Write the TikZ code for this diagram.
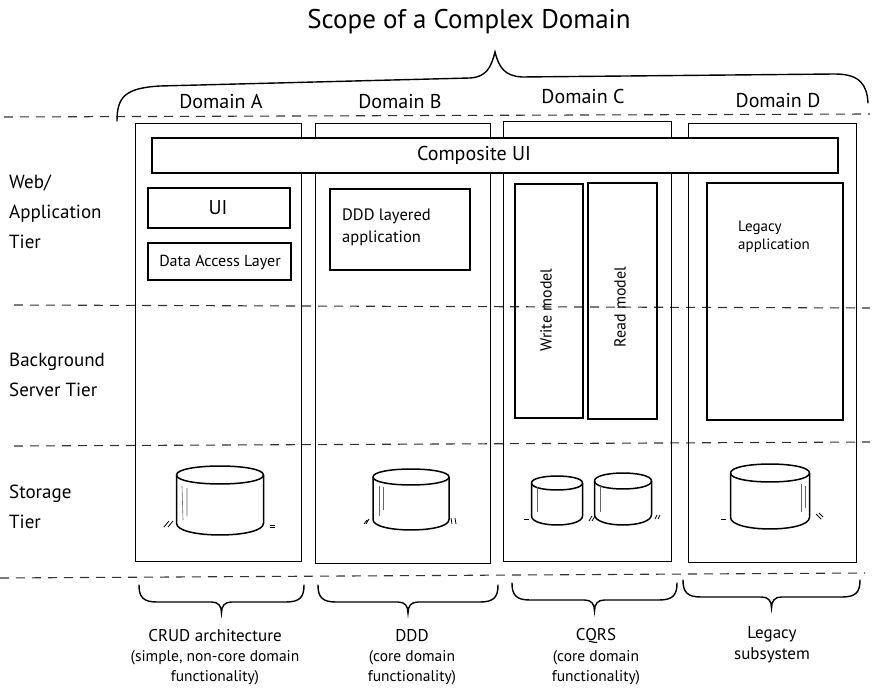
\documentclass[tikz,border=0pt]{standalone}
\usepackage{fontspec}
\setmainfont{PT Sans}
\usetikzlibrary{fit}
\newcommand\botbrace[3]{%
  \draw[brc] ({#1},{#3}) .. controls ({#1},{#3+12}) and ({#1+4},{#3+17}) .. ({#1+18},{#3+17})
    -- ({(#1+#2)/2-10},{#3+17}) .. controls ({(#1+#2)/2-3},{#3+17}) and ({(#1+#2)/2},{#3+21}) .. ({(#1+#2)/2},{#3+28})
    .. controls ({(#1+#2)/2},{#3+21}) and ({(#1+#2)/2+3},{#3+17}) .. ({(#1+#2)/2+10},{#3+17})
    -- ({#2-18},{#3+17}) .. controls ({#2-4},{#3+17}) and ({#2},{#3+12}) .. ({#2},{#3});}
% \dbcyl{name}{cx}{top}{width}{bottom}{ry}
\newcommand\dbcyl[6]{%
  \pgfmathsetmacro\cL{#2-#4/2}\pgfmathsetmacro\cR{#2+#4/2}%
  \pgfmathsetmacro\cT{#3+#6}\pgfmathsetmacro\cB{#5-1.3*#6}%
  \pgfmathsetmacro\cU{#3+#6-1.33*#6}\pgfmathsetmacro\cD{#3+#6+1.33*#6}%
  \pgfmathsetmacro\cE{#5-1.3*#6+1.73*#6}%
  \coordinate (#1) at (#2,{(#3+#5)/2});
  \draw[dbl] (\cL,\cT) .. controls (\cL,\cU) and (\cR,\cU) .. (\cR,\cT)
     .. controls (\cR,\cD) and (\cL,\cD) .. cycle;
  \draw[dbl] (\cL,\cT) -- (\cL,\cB) .. controls (\cL,\cE) and (\cR,\cE) .. (\cR,\cB) -- (\cR,\cT);}
\begin{document}
\begin{tikzpicture}[x=1pt,y=-1pt,
  lbl/.style={font=\fontsize{20}{24}\selectfont, inner sep=0pt},
  tier/.style={font=\fontsize{19}{30}\selectfont, align=left, anchor=north west, inner sep=0pt},
  small/.style={font=\fontsize{16}{21}\selectfont, align=left, inner sep=0pt},
  colbox/.style={draw, line width=0.9pt, inner sep=0pt},
  ibox/.style={draw, line width=1.3pt, inner sep=0pt},
  cui/.style={draw, line width=2.4pt, inner sep=0pt},
  sep/.style={draw=black!80, line width=1.1pt, dash pattern=on 9pt off 7pt},
  dbl/.style={line width=1.5pt, line join=round},
  brc/.style={line width=1.4pt, line cap=round},
  tick/.style={line width=0.8pt},
  shine/.style={line width=0.6pt, draw=black!60},
  head/.style={font=\fontsize{17}{20}\selectfont, inner sep=0pt},
  sub/.style={font=\fontsize{15.5}{20}\selectfont, align=center, inner sep=0pt}
]
\useasboundingbox (0,0) rectangle (875,700);

% title and top brace
\node[lbl, font=\fontsize{27}{30}\selectfont] (title) at (469,22) {Scope of a Complex Domain};
\draw[brc] (117,121) .. controls (117,97) and (125,88) .. (160,86) -- (470,78)
  .. controls (486,77) and (491,68) .. (495,52)
  .. controls (499,68) and (505,76) .. (522,77) -- (835,74)
  .. controls (860,74) and (867,85) .. (868,103);

% domain labels
\node[lbl] (dA) at (221,102) {Domain A};
\node[lbl] (dB) at (400,102) {Domain B};
\node[lbl] (dC) at (583,97) {Domain C};
\node[lbl] (dD) at (778,101) {Domain D};

% tier separators
\draw[sep] (4,117) -- (870,114);
\draw[sep] (14,305) -- (870,308);
\draw[sep] (14,446) -- (870,442);
\draw[sep] (0,578) -- (865,573);

% tier labels
\node[tier] (tWeb) at (9,175) {Web/\\Application\\Tier};
\node[tier] (tBg) at (9,353) {Background\\Server Tier};
\node[tier] (tSt) at (9,485) {Storage\\Tier};

% domain columns
\node[colbox, fit={(135,123) (301,561)}] (colA) {};
\node[colbox, fit={(315,123) (490,563)}] (colB) {};
\node[colbox, fit={(503,121) (671,561)}] (colC) {};
\node[colbox, fit={(688,123) (856,562)}] (colD) {};

% composite UI
\node[cui, fill=white, fit={(152,138) (838,173)}] (cuiBox) {};
\node[lbl] (cuiTxt) at (474,155) {Composite UI};

% domain A
\node[ibox, fit={(148,188) (290,228)}] (uiBox) {};
\node[lbl] (uiTxt) at (218,208) {UI};
\node[ibox, fit={(148,243) (291,280)}] (dalBox) {};
\node[small] (dalTxt) at (220,262) {Data Access Layer};

% domain B
\node[ibox, fit={(330,189) (470,270)}] (dddBox) {};
\node[small, font=\fontsize{16.5}{22}\selectfont, anchor=north west] (dddTxt) at (342,209) {DDD layered\\application};

% domain C
\node[ibox, fit={(515,184) (583,418)}] (wBox) {};
\node[small, rotate=90] (wTxt) at (546,310) {Write model};
\node[ibox, fit={(588,183) (657,419)}] (rBox) {};
\node[small, rotate=90] (rTxt) at (620,307) {Read model};

% domain D
\node[ibox, fit={(707,183) (843,420)}] (lBox) {};
\node[small, font=\fontsize{15}{18}\selectfont, anchor=north west] (lTxt) at (738,221) {Legacy\\application};

% databases
\dbcyl{dbA}{220}{466}{87}{535}{9}
\dbcyl{dbB}{411}{469}{76}{530}{8}
\dbcyl{dbC1}{557}{476}{51}{525}{7}
\dbcyl{dbC2}{623}{473}{57}{525}{8}
\dbcyl{dbD}{770}{464}{79}{529}{9}

% sketch ticks next to databases
\draw[tick] (164,527) -- (169,521) (168,527) -- (173,521);
\draw[tick] (270,525) -- (275,525) (270,527) -- (275,527);
\draw[tick] (364,524) -- (367,520) (366,524) -- (369,519);
\draw[tick] (451,518) -- (452,524) (455,518) -- (456,524);
\draw[tick] (524,519) -- (529,519);
\draw[tick] (589,521) -- (592,516) (592,521) -- (595,516);
\draw[tick] (655,519) -- (657,515) (658,519) -- (660,515);
\draw[tick] (721,519) -- (726,519);
\draw[tick] (816,514) -- (821,519) (819,513) -- (823,517);

% cylinder shines
\draw[shine] (182,486) -- (183,520) (187,488) -- (187,516);
\draw[shine] (379,486) -- (379,516) (383,487) -- (383,510);
\draw[shine] (537,487) -- (537,512);
\draw[shine] (600,486) -- (600,512);
\draw[shine] (801,484) -- (801,512) (805,486) -- (805,508);

% bottom braces and descriptions
\botbrace{139}{304}{585}
\botbrace{318}{498}{585}
\botbrace{512}{677}{583}
\botbrace{683}{860}{580}

\node[head] (nA) at (215,636) {CRUD architecture};
\node[sub] (sA) at (215,668) {(simple, non-core domain\\functionality)};
\node[head] (nB) at (412,636) {DDD};
\node[sub] (sB) at (412,668) {(core domain\\functionality)};
\node[head] (nC) at (596,636) {CQRS};
\node[sub] (sC) at (596,668) {(core domain\\functionality)};
\node[sub, font=\fontsize{17}{21}\selectfont] (nD) at (772,645) {Legacy\\subsystem};
\end{tikzpicture}
\end{document}
